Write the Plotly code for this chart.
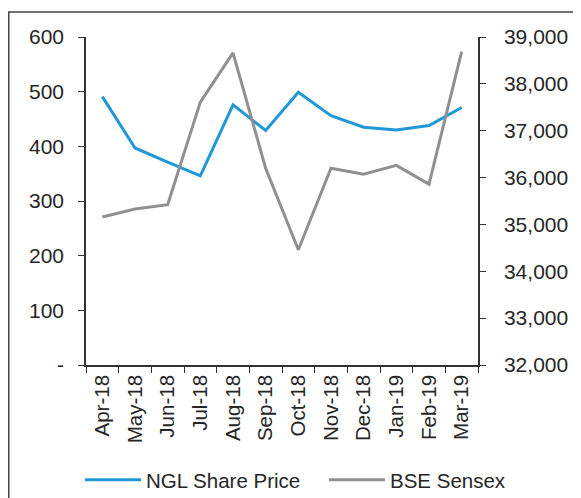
import plotly.graph_objects as go

months = ["Apr-18", "May-18", "Jun-18", "Jul-18", "Aug-18", "Sep-18",
          "Oct-18", "Nov-18", "Dec-18", "Jan-19", "Feb-19", "Mar-19"]
ngl_price = [491, 397, 371, 346, 476, 429, 499, 456, 435, 430, 438, 471]
bse_sensex = [35160, 35330, 35420, 37610, 38660, 36200, 34460, 36200, 36070, 36260, 35860, 38690]

left_ticks = [0, 100, 200, 300, 400, 500, 600]
left_labels = ["-", "100", "200", "300", "400", "500", "600"]
right_ticks = [32000, 33000, 34000, 35000, 36000, 37000, 38000, 39000]
right_labels = ["32,000", "33,000", "34,000", "35,000", "36,000", "37,000", "38,000", "39,000"]

BLUE = "#2097D6"
GREY = "#909092"
AX = "#333333"
TXT = "#262626"
FONT = "Liberation Sans"

fig = go.Figure()
fig.add_trace(go.Scatter(x=months, y=ngl_price, mode="lines", name="NGL Share Price",
                         line=dict(color=BLUE, width=3), yaxis="y", legend="legend"))
fig.add_trace(go.Scatter(x=months, y=bse_sensex, mode="lines", name="BSE Sensex",
                         line=dict(color=GREY, width=3), yaxis="y2", legend="legend2"))

# figure is drawn at an 8px page offset (body margin)
W, H = 573, 490
L, T = 78, 29
pw, ph = 392, 328
R, B = W - L - pw, H - T - ph

def px_x(fx):
    return (fx - L) / pw

def px_y(fy):
    return (T + ph - fy) / ph

legend_common = dict(orientation="h", xanchor="left", y=px_y(472), yanchor="middle",
                     font=dict(size=20.5, color=TXT), itemwidth=56,
                     bgcolor="rgba(0,0,0,0)")

fig.update_layout(
    width=W, height=H,
    margin=dict(l=L, r=R, t=T, b=B, autoexpand=False),
    paper_bgcolor="white", plot_bgcolor="white",
    font=dict(family=FONT, size=21, color=TXT),
    showlegend=True,
    legend=dict(x=px_x(72), **legend_common),
    legend2=dict(x=px_x(316), **legend_common),
    xaxis=dict(type="category", showgrid=False, showline=True, linecolor=AX, linewidth=1.5,
               ticks="outside", tickson="boundaries", ticklen=6, tickcolor=AX, tickwidth=1.2,
               tickangle=-90, tickfont=dict(size=20.5), range=[-0.5, 11.5]),
    yaxis=dict(range=[0, 600], tickvals=left_ticks, ticktext=left_labels, showgrid=False,
               zeroline=False, showline=True, linecolor=AX, linewidth=1.5, ticks="outside",
               ticklen=6, tickcolor=AX, tickwidth=1.2, ticklabelstandoff=10),
    yaxis2=dict(range=[32000, 39000], tickvals=right_ticks, ticktext=right_labels,
                overlaying="y", side="right", showgrid=False, zeroline=False, showline=True,
                linecolor=AX, linewidth=1.5, ticks="outside", ticklen=6, tickcolor=AX,
                tickwidth=1.2, ticklabelstandoff=14),
    shapes=[dict(type="rect", xref="paper", yref="paper",
                 x0=px_x(0.75), x1=px_x(W + 30),
                 y0=px_y(H + 30), y1=px_y(4),
                 line=dict(color="#444444", width=1.5), fillcolor="rgba(0,0,0,0)",
                 layer="below")],
)

fig.write_html("out.html")
